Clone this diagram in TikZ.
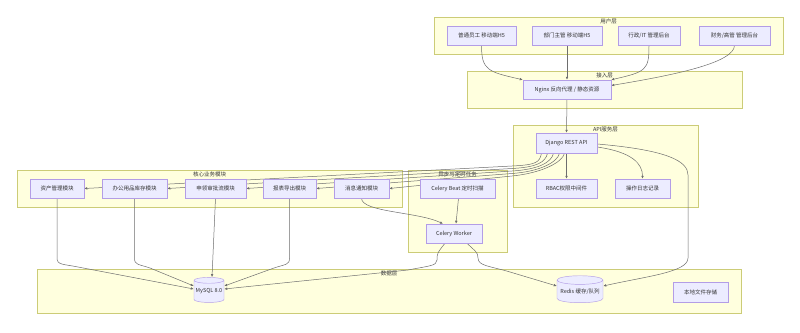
\documentclass[tikz,border=0pt]{standalone}
\usepackage{fontspec}
\setmainfont{Noto Sans CJK SC}
\usetikzlibrary{shapes.geometric,arrows.meta}
\pgfdeclarelayer{clusterlayer}
\pgfdeclarelayer{edgelayer}
\pgfsetlayers{clusterlayer,edgelayer,main}
\definecolor{clFill}{HTML}{FFFFDE}
\definecolor{clBorder}{HTML}{CCCC77}
\definecolor{ndFill}{HTML}{ECECFF}
\definecolor{ndBorder}{HTML}{B39DE6}
\definecolor{txtC}{HTML}{333333}
\definecolor{edgeC}{HTML}{6E6E6E}
\newcommand\dfont{\fontsize{5.5pt}{6.5pt}\selectfont}
\begin{document}
\begin{tikzpicture}[x=1pt,y=-1pt,
  cluster/.style={draw=clBorder,fill=clFill,line width=0.5pt},
  clabel/.style={font=\dfont,text=txtC,inner sep=0pt},
  box/.style={draw=ndBorder,fill=ndFill,line width=0.45pt,font=\dfont,text=txtC,inner sep=0pt,minimum height=19pt},
  cyl/.style={cylinder,shape border rotate=90,aspect=0.22,draw=ndBorder,fill=ndFill,line width=0.45pt,font=\dfont,text=txtC,inner sep=0pt},
  edge/.style={draw=edgeC,line width=0.5pt,-{Latex[length=3pt,width=2.6pt]}}]
\useasboundingbox (0,0) rectangle (800,332);
% clusters
\begin{pgfonlayer}{clusterlayer}
\fill[white] (0,0) rectangle (800,332);
\path[cluster] (434,17) rectangle (783,54);
\node[clabel] (lUser) at (608.5,21.5) {用户层};
\path[cluster] (467,71) rectangle (742,108);
\node[clabel] (lAcc) at (604.5,75.5) {接入层};
\path[cluster] (513,125) rectangle (698,207);
\node[clabel] (lApi) at (605.5,129.5) {API服务层};
\path[cluster] (17,170) rectangle (402,207);
\node[clabel] (lCore) at (209.5,174.5) {核心业务模块};
\path[cluster] (408,170) rectangle (507,252);
\node[clabel] (lAsync) at (457.5,174.5) {异步与定时任务};
\path[cluster] (37,269) rectangle (741,313);
\node[clabel] (lData) at (389,273.5) {数据层};
\end{pgfonlayer}
% nodes
\node[box,minimum width=69pt] (u1) at (481.5,35.5) {普通员工 移动端H5};
\node[box,minimum width=70pt] (u2) at (567,35.5) {部门主管 移动端H5};
\node[box,minimum width=62pt] (u3) at (649,35.5) {行政/IT 管理后台};
\node[box,minimum width=71pt] (u4) at (734.5,35.5) {财务/高管 管理后台};
\node[box,minimum width=88pt] (ngx) at (567,89.5) {Nginx 反向代理 / 静态资源};
\node[box,minimum width=61pt,minimum height=20pt] (dj) at (566.5,143) {Django REST API};
\node[box,minimum width=61pt] (rbac) at (566.5,188.5) {RBAC权限中间件};
\node[box,minimum width=55pt] (log) at (642.5,188.5) {操作日志记录};
\node[box,minimum width=54pt] (m1) at (57,188.5) {资产管理模块};
\node[box,minimum width=65pt] (m2) at (134.5,188.5) {办公用品库存模块};
\node[box,minimum width=61pt] (m3) at (215.5,188.5) {申领审批流模块};
\node[box,minimum width=53pt] (m4) at (289.5,188.5) {报表导出模块};
\node[box,minimum width=55pt] (m5) at (361.5,188.5) {消息通知模块};
\node[box,minimum width=75pt] (beat) at (457.5,188.5) {Celery Beat 定时扫描};
\node[box,minimum width=56pt] (worker) at (454,233.5) {Celery Worker};
\node[cyl,minimum width=30pt,minimum height=25pt] (mysql) at (209,291.5) {MySQL 8.0};
\node[cyl,minimum width=46pt,minimum height=27pt] (redis) at (580,291.5) {Redis 缓存/队列};
\node[box,minimum width=55pt,minimum height=20pt] (file) at (700.5,292) {本地文件存储};
% edges
\begin{pgfonlayer}{edgelayer}
\draw[edge] (u1.south) .. controls +(0,25) and +(-35,-8) .. (ngx.north west);
\draw[edge] (u2.south) -- (ngx.north);
\draw[edge] (u3.south) .. controls +(0,25) and +(35,-8) .. (ngx.north east);
\draw[edge] (u4.south) .. controls +(0,18) and +(60,-10) .. ([yshift=4pt]ngx.east);
\draw[edge] (ngx.south) -- (dj.north);
\draw[edge] (dj.south) -- (rbac.north);
\draw[edge] ([yshift=-4pt]dj.east) .. controls +(35,5) and +(0,-15) .. (log.north);
\draw[edge] ([yshift=-1pt]dj.east) .. controls +(70,6) and +(0,-14) .. (688,175) -- (688,258) .. controls +(0,14) and +(45,-10) .. ([yshift=5.5pt]redis.east);
\draw[edge] ([xshift=-25pt]dj.south) .. controls +(-2,9) and +(25,-1.2) .. (512,166) -- (m1.east);
\draw[edge] ([xshift=-19pt]dj.south) .. controls +(-2,9) and +(25,-1.3) .. (512,168.5) -- (m2.east);
\draw[edge] ([xshift=-13pt]dj.south) .. controls +(-2,9) and +(27,-1.6) .. (512,171) -- (m3.east);
\draw[edge] ([xshift=-7pt]dj.south) .. controls +(-2,9) and +(28,-2) .. (512,173.5) -- (m4.east);
\draw[edge] ([xshift=-2pt]dj.south) .. controls +(-2,9) and +(30,-3) .. (512,176) -- (m5.east);
\draw[edge] (m5.south) .. controls +(0,14) and +(-25,-12) .. ([xshift=-11pt]worker.north);
\draw[edge] ([xshift=1pt]beat.south) -- ([xshift=2pt]worker.north);
\draw[edge] ([xshift=-9pt]worker.south) .. controls +(-8,10) and +(0,-6) .. (437,260) .. controls +(0,6) and +(20,-4) .. (408,270) -- ([yshift=2.5pt]mysql.east);
\draw[edge] ([xshift=13pt]worker.south) .. controls +(8,8) and +(0,-6) .. (478,258) .. controls +(0,8) and +(-20,-6) .. (510,272) -- ([yshift=5.5pt]redis.west);
\draw[edge] (m1.south) -- (57,258) .. controls +(0,7) and +(-15,-3) .. (78,267) -- ([yshift=2.5pt]mysql.west);
\draw[edge] (m2.south) -- (134.5,258) .. controls +(0,7) and +(-12,-4) .. (150,268) -- ([yshift=5.5pt]mysql.west);
\draw[edge] (m3.south) -- ([xshift=3pt]mysql.north);
\draw[edge] (m4.south) -- (289.5,258) .. controls +(0,7) and +(12,-4) .. (274,268) -- ([yshift=5.5pt]mysql.east);
\end{pgfonlayer}
\end{tikzpicture}
\end{document}
